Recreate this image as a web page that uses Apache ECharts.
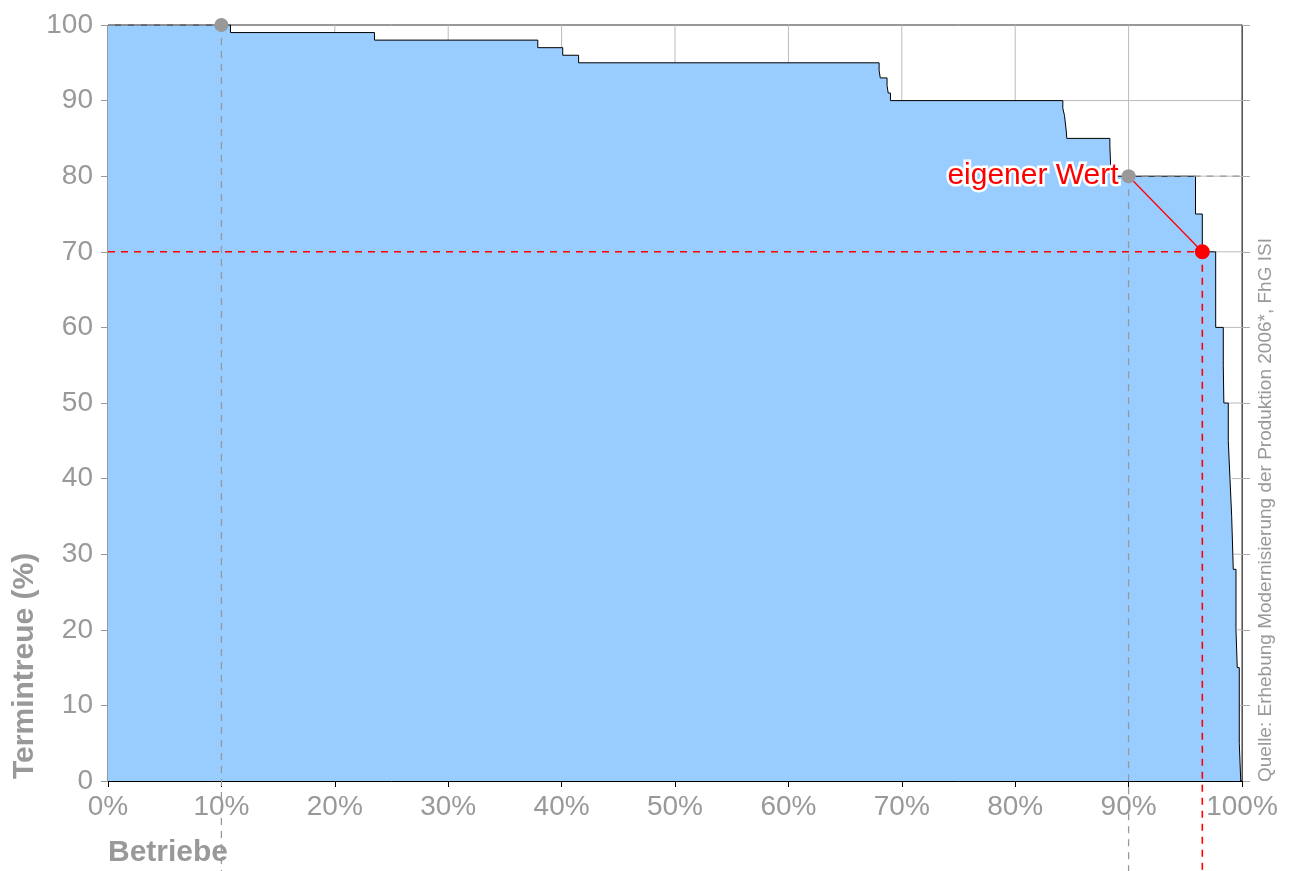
<!DOCTYPE html>
<html>
<head>
<meta charset="utf-8">
<title>Termintreue</title>
<script src="https://cdn.jsdelivr.net/npm/echarts@6/dist/echarts.min.js"></script>
<style>
    html, body { margin: 0; padding: 0; background: #fff; }
    #chart { width: 1289px; height: 871px; }
</style>
</head>
<body>
<div id="chart"></div>
<script>
// Anteil der Betriebe (%), ab dem die jeweilige Stufe gilt
var betriebeAnteil = [0, 10.8, 23.5, 37.9, 40.1, 41.5, 68.0, 68.1, 68.7, 68.8, 69.0,
    84.2, 84.35, 84.5, 84.55, 88.35, 88.45, 95.9, 96.5, 97.68, 98.35, 98.4,
    98.79, 98.94, 99.09, 99.23, 99.47, 99.58, 99.76, 99.89, 100];
// Termintreue (%) je Stufe
var termintreue = [100, 99, 98, 97, 96, 95, 94, 93, 92, 91, 90,
    89, 88, 86, 85, 84, 80, 75, 70, 60, 55, 50,
    45, 40, 35, 28, 20, 15, 5, 0, 0];

var vergleichPunkt = [10, 100];     // grauer Punkt oben
var eigenerPunktAlt = [90, 80];     // grauer Punkt "eigener Wert"
var eigenerWert = [96.5, 70];       // roter Punkt
var yTicks = [0, 10, 20, 30, 40, 50, 60, 70, 80, 90, 100];
var xTicks = [0, 10, 20, 30, 40, 50, 60, 70, 80, 90, 100];
var unterkante = -12;               // Hilfslinien laufen bis unter die Achse

var grau = '#999999';
var rot = '#ff0000';
var schrift = 'Liberation Sans, Arial, sans-serif';

var myChart = echarts.init(document.getElementById('chart'));

var stepData = betriebeAnteil.map((x, i) => [x, termintreue[i]]);

// Stufe der Kurve an Stelle x
function stufeBei(x) {
    var lvl = termintreue[0];
    betriebeAnteil.forEach((b, i) => { if (b <= x) lvl = termintreue[i]; });
    return lvl;
}
// erste Stelle, an der die Kurve unter v faellt
function schnittBei(v) {
    for (var i = 0; i < termintreue.length; i++) {
        if (termintreue[i] < v) return betriebeAnteil[i];
    }
    return 100;
}

// Gitterlinien nur im weissen Bereich oberhalb der Flaeche
var gitter = [];
xTicks.slice(1, -1).forEach(t => gitter.push([t, stufeBei(t), t, 100]));
yTicks.slice(1, -1).forEach(v => gitter.push([schnittBei(v), v, 100, v]));

function dashed(points, color, width) {
    return {
        type: 'line',
        data: points,
        symbol: 'none',
        silent: true,
        clip: false,
        z: 5,
        lineStyle: { color: color, width: width, type: [7, 6] }
    };
}

var option = {
    animation: false,
    grid: {
        left: 108, right: 47, top: 25, bottom: 90,
        show: true, borderColor: '#333', borderWidth: 1, backgroundColor: 'transparent'
    },
    xAxis: {
        type: 'value',
        min: xTicks[0],
        max: xTicks[xTicks.length - 1],
        interval: 10,
        axisLine: { lineStyle: { color: '#000', width: 1 } },
        axisTick: { show: true, length: 6, lineStyle: { color: '#000' } },
        axisLabel: {
            formatter: '{value}%',
            color: grau,
            fontSize: 28,
            fontFamily: schrift,
            margin: 12
        },
        splitLine: { show: false }
    },
    yAxis: [
        {
            type: 'value',
            min: yTicks[0],
            max: yTicks[yTicks.length - 1],
            interval: 10,
            axisLine: { show: true, lineStyle: { color: '#000', width: 1 } },
            axisTick: { show: true, length: 7, lineStyle: { color: grau } },
            axisLabel: {
                color: grau,
                fontSize: 28,
                fontFamily: schrift,
                margin: 15
            },
            splitLine: { show: false }
        },
        {
            type: 'value',
            position: 'right',
            min: 0,
            max: 100,
            interval: 10,
            axisLine: { show: true, lineStyle: { color: '#555', width: 1 } },
            axisTick: { show: true, length: 8, lineStyle: { color: '#aaaaaa' } },
            axisLabel: { show: false },
            splitLine: { show: false }
        }
    ],
    series: [
        {
            type: 'custom',
            data: gitter,
            silent: true,
            z: 1,
            encode: { x: [0, 2], y: [1, 3] },
            renderItem: function (params, api) {
                var p1 = api.coord([api.value(0), api.value(1)]);
                var p2 = api.coord([api.value(2), api.value(3)]);
                return {
                    type: 'line',
                    shape: { x1: p1[0], y1: p1[1], x2: p2[0], y2: p2[1] },
                    style: { stroke: '#bbbbbb', lineWidth: 1 }
                };
            }
        },
        {
            name: 'Termintreue',
            type: 'line',
            step: 'end',
            data: stepData,
            symbol: 'none',
            z: 2,
            lineStyle: { color: '#000', width: 1 },
            areaStyle: { color: '#99ccff', opacity: 1 }
        },
        dashed([[0, vergleichPunkt[1]], vergleichPunkt], grau, 1.3),
        dashed([vergleichPunkt, [vergleichPunkt[0], unterkante]], grau, 1.3),
        dashed([eigenerPunktAlt, [eigenerPunktAlt[0], unterkante]], grau, 1.3),
        dashed([eigenerPunktAlt, [100, eigenerPunktAlt[1]]], grau, 1.3),
        dashed([[0, eigenerWert[1]], eigenerWert], rot, 1.6),
        dashed([eigenerWert, [eigenerWert[0], unterkante]], rot, 1.6),
        {
            type: 'line',
            data: [eigenerPunktAlt, eigenerWert],
            symbol: 'none',
            silent: true,
            z: 6,
            lineStyle: { color: rot, width: 1.3 }
        },
        {
            type: 'scatter',
            data: [vergleichPunkt],
            symbolSize: 14,
            z: 8,
            itemStyle: { color: grau, opacity: 1 }
        },
        {
            type: 'scatter',
            data: [eigenerPunktAlt],
            symbolSize: 14,
            z: 8,
            itemStyle: { color: grau, opacity: 1 },
            label: {
                show: true,
                position: 'left',
                distance: 3,
                formatter: 'eigener Wert',
                color: rot,
                fontSize: 30,
                fontFamily: schrift,
                textBorderColor: '#fff',
                textBorderWidth: 5
            }
        },
        {
            type: 'scatter',
            data: [eigenerWert],
            symbolSize: 15,
            z: 9,
            itemStyle: { color: rot, opacity: 1 }
        }
    ],
    graphic: [
        {
            type: 'text',
            left: 108,
            top: 838,
            style: {
                text: 'Betriebe',
                fill: grau,
                font: 'bold 30px ' + schrift
            }
        },
        {
            type: 'text',
            x: 25,
            y: 779,
            rotation: Math.PI / 2,
            style: {
                text: 'Termintreue (%)',
                fill: grau,
                font: 'bold 30px ' + schrift,
                textAlign: 'left',
                textVerticalAlign: 'middle'
            }
        },
        {
            type: 'text',
            x: 1266,
            y: 782,
            rotation: Math.PI / 2,
            style: {
                text: 'Quelle: Erhebung Modernisierung der Produktion 2006*, FhG ISI',
                fill: grau,
                font: '19px ' + schrift,
                textAlign: 'left',
                textVerticalAlign: 'middle'
            }
        }
    ]
};

myChart.setOption(option);
</script>
</body>
</html>
